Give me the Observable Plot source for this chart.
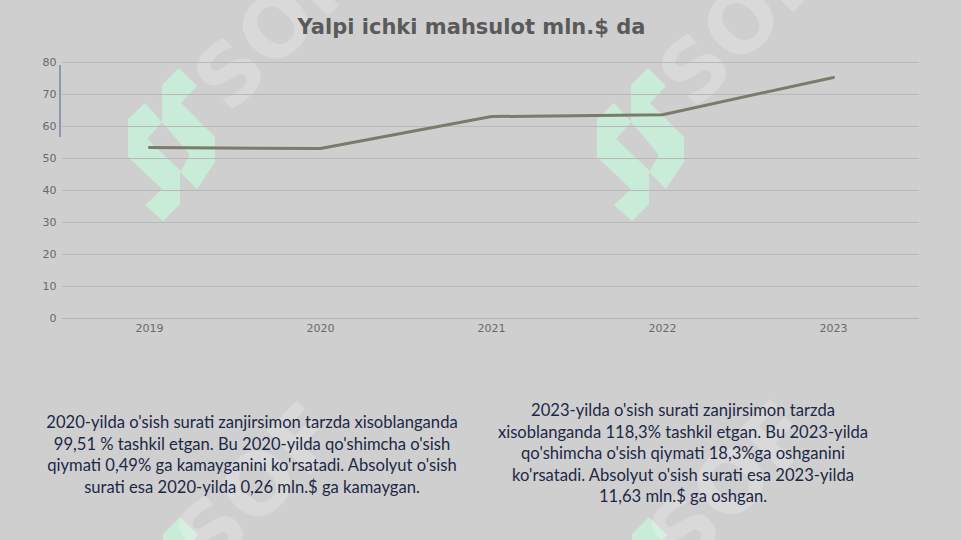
<!DOCTYPE html>
<html>
<head>
<meta charset="utf-8">
<script src="https://cdn.jsdelivr.net/npm/d3@7"></script>
<script src="https://cdn.jsdelivr.net/npm/@observablehq/plot@0.6"></script>
<style>
  html, body { margin: 0; padding: 0; background: #cfcfcf; }
  #wrap { position: relative; width: 961px; height: 540px; overflow: hidden; background: #cfcfcf; }
  #wm { position: absolute; left: 0; top: 0; }
  #title { position: absolute; left: 0; width: 943px; top: 15px; text-align: center;
    font-family: "DejaVu Sans", sans-serif; font-weight: bold; font-size: 21px; color: #5a5a5a; }
  #chart { position: absolute; left: 0; top: 0; }
  #cursor { position: absolute; left: 59px; top: 65px; width: 2px; height: 72px; background: #8d96b2; }
  .para { position: absolute; font-family: Lato, sans-serif; font-size: 16.6px; line-height: 21.5px;
    color: #1d2848; text-align: center; white-space: nowrap; }
</style>
</head>
<body>
<div id="wrap">
  <svg id="wm" width="961" height="540"></svg>
  <div id="chart"></div>
  <div id="title"></div>
  <div id="cursor"></div>
  <div class="para" id="p1" style="left:22px; width:460px; top:412px;"></div>
  <div class="para" id="p2" style="left:473px; width:420px; top:400px;"></div>
</div>
<script>
const years = ["2019", "2020", "2021", "2022", "2023"];
const gdp = [53.4, 53.14, 63.1, 63.7, 75.33];
const yTicks = [0, 10, 20, 30, 40, 50, 60, 70, 80];
const titleText = "Yalpi ichki mahsulot mln.$ da";
const para1 = [
  "2020-yilda o'sish surati zanjirsimon tarzda xisoblanganda",
  "99,51 % tashkil etgan. Bu 2020-yilda qo'shimcha o'sish",
  "qiymati 0,49% ga kamayganini ko'rsatadi. Absolyut o'sish",
  "surati esa 2020-yilda 0,26 mln.$ ga kamaygan."
];
const para2 = [
  "2023-yilda o'sish surati zanjirsimon tarzda",
  "xisoblanganda 118,3% tashkil etgan. Bu 2023-yilda",
  "qo'shimcha o'sish qiymati 18,3%ga oshganini",
  "ko'rsatadi. Absolyut o'sish surati esa 2023-yilda",
  "11,63 mln.$ ga oshgan."
];
const watermarkText = "SOF";

const data = years.map((y, i) => ({year: y, value: gdp[i]}));

const esc = s => s.replace(/&/g,"&amp;").replace(/</g,"&lt;");
document.getElementById("title").textContent = titleText;
document.getElementById("p1").innerHTML = para1.map(esc).join("<br>");
document.getElementById("p2").innerHTML = para2.map(esc).join("<br>");

// decorative watermark (logo + text)
const wm = d3.select("#wm");
const rightPiece = [[179,68],[197,86],[181,103],[215,137],[215,162],[197,189],[180,172],[190,155],[162,122],[162,85]];
const leftPiece = [[145,103],[162,122],[147,139],[180,170],[180,204],[163,221],[145,205],[162,189],[128,157],[128,119]];
const logoOffsets = [[0,0],[469,0],[1,449],[470,449]];
logoOffsets.forEach(([dx,dy]) => {
  const g = wm.append("g").attr("transform", `translate(${dx},${dy})`);
  [rightPiece, leftPiece].forEach(p => {
    g.append("polygon").attr("points", p.map(q => q.join(",")).join(" ")).attr("fill", "#c9ecd9");
  });
});
const textCenters = [[280,32],[745,28],[262,490],[735,488]];
textCenters.forEach(([cx,cy]) => {
  wm.append("text")
    .attr("transform", `translate(${cx},${cy}) rotate(-45)`)
    .attr("text-anchor", "middle").attr("dominant-baseline", "middle")
    .attr("font-family", "DejaVu Sans, sans-serif").attr("font-weight", "bold")
    .attr("font-size", 84)
    .attr("fill", "#ffffff").attr("fill-opacity", 0.22).text(watermarkText);
});

const plot = Plot.plot({
  width: 961,
  height: 345,
  marginTop: 62,
  marginBottom: 27,
  marginLeft: 62,
  marginRight: 42,
  style: {background: "transparent", fontFamily: "DejaVu Sans, sans-serif", fontSize: "11px", color: "#6a6a6a"},
  x: {type: "point", domain: years, padding: 0.5, label: null},
  y: {domain: [0, 80], ticks: yTicks, label: null},
  marks: [
    Plot.gridY(yTicks, {stroke: "#b8b8b8", strokeOpacity: 1, strokeWidth: 1}),
    Plot.ruleY([0], {stroke: "#b3b3b3", strokeWidth: 1}),
    Plot.axisY(yTicks, {tickSize: 0, tickPadding: 6, fill: "#6a6a6a", fontSize: 11}),
    Plot.axisX({tickSize: 0, tickPadding: 6, fill: "#6a6a6a", fontSize: 11}),
    Plot.line(data, {x: "year", y: "value", stroke: "#7b7b6c", strokeWidth: 3, strokeLinejoin: "round", strokeLinecap: "round"})
  ]
});
document.getElementById("chart").appendChild(plot);
</script>
</body>
</html>
